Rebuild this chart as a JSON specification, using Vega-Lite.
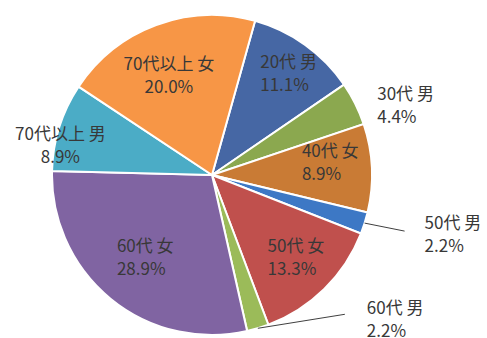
{
  "$schema": "https://vega.github.io/schema/vega-lite/v6.json",
  "width": 424,
  "height": 324,
  "autosize": {"type": "none"},
  "padding": {"left": 0, "top": 13, "right": 63, "bottom": 1},
  "background": "white",
  "config": {"view": {"stroke": null}, "text": {"font": "Noto Sans CJK JP", "fontSize": 17, "color": "#383838", "lineHeight": 23, "lineBreak": "\n"}},
  "data": {"values": [
    {"category": "20代 男", "value": 11.1, "order": 1},
    {"category": "30代 男", "value": 4.4, "order": 2},
    {"category": "40代 女", "value": 8.9, "order": 3},
    {"category": "50代 男", "value": 2.2, "order": 4},
    {"category": "50代 女", "value": 13.3, "order": 5},
    {"category": "60代 男", "value": 2.2, "order": 6},
    {"category": "60代 女", "value": 28.9, "order": 7},
    {"category": "70代以上 男", "value": 8.9, "order": 8},
    {"category": "70代以上 女", "value": 20.0, "order": 9}
  ]},
  "transform": [
    {"window": [{"op": "sum", "field": "value", "as": "cum"}], "sort": [{"field": "order"}], "frame": [null, 0]},
    {"joinaggregate": [{"op": "sum", "field": "value", "as": "total"}]},
    {"calculate": "0.2723 + 2*PI*(datum.cum - datum.value/2)/datum.total", "as": "mid"},
    {"calculate": "datum.category + '\\n' + format(datum.value, '.1f') + '%'", "as": "label"}
  ],
  "layer": [
    {
      "mark": {"type": "arc", "radius": 160, "stroke": "white", "strokeWidth": 2},
      "encoding": {
        "theta": {"field": "value", "type": "quantitative", "stack": true, "scale": {"range": [0.2723, 6.5555]}},
        "order": {"field": "order", "type": "quantitative"},
        "color": {"field": "category", "type": "nominal", "legend": null,
          "scale": {"domain": ["20代 男", "30代 男", "40代 女", "50代 男", "50代 女", "60代 男", "60代 女", "70代以上 男", "70代以上 女"],
                    "range": ["#4667A4", "#8BA84F", "#C97B35", "#3D78C5", "#C0504D", "#9BBB59", "#8064A2", "#4BACC6", "#F79646"]}}
      }
    },
    {
      "mark": {"type": "text", "radius": 112, "align": "center", "baseline": "middle", "dx": -4, "dy": -5},
      "encoding": {
        "theta": {"field": "value", "type": "quantitative", "stack": true},
        "order": {"field": "order", "type": "quantitative"},
        "text": {"condition": {"test": "datum.category == '70代以上 女'", "field": "label"}, "value": ""}
      }
    },
    {
      "mark": {"type": "text", "radius": 112, "align": "left", "baseline": "middle", "dx": -17, "dy": -21},
      "encoding": {
        "theta": {"field": "value", "type": "quantitative", "stack": true},
        "order": {"field": "order", "type": "quantitative"},
        "text": {"condition": {"test": "datum.category == '20代 男'", "field": "label"}, "value": ""}
      }
    },
    {
      "mark": {"type": "text", "radius": 112, "align": "left", "baseline": "middle", "dx": -22, "dy": -18},
      "encoding": {
        "theta": {"field": "value", "type": "quantitative", "stack": true},
        "order": {"field": "order", "type": "quantitative"},
        "text": {"condition": {"test": "datum.category == '40代 女'", "field": "label"}, "value": ""}
      }
    },
    {
      "mark": {"type": "text", "radius": 112, "align": "left", "baseline": "middle", "dx": -23, "dy": -8},
      "encoding": {
        "theta": {"field": "value", "type": "quantitative", "stack": true},
        "order": {"field": "order", "type": "quantitative"},
        "text": {"condition": {"test": "datum.category == '50代 女'", "field": "label"}, "value": ""}
      }
    },
    {
      "mark": {"type": "text", "radius": 112, "align": "left", "baseline": "middle", "dx": -24, "dy": -15},
      "encoding": {
        "theta": {"field": "value", "type": "quantitative", "stack": true},
        "order": {"field": "order", "type": "quantitative"},
        "text": {"condition": {"test": "datum.category == '60代 女'", "field": "label"}, "value": ""}
      }
    },
    {
      "mark": {"type": "text", "radius": 160, "align": "left", "baseline": "middle", "dx": 22, "dy": -9},
      "encoding": {
        "theta": {"field": "value", "type": "quantitative", "stack": true},
        "order": {"field": "order", "type": "quantitative"},
        "text": {"condition": {"test": "datum.category == '30代 男'", "field": "label"}, "value": ""}
      }
    },
    {
      "mark": {"type": "text", "radius": 160, "align": "left", "baseline": "middle", "dx": 60, "dy": 1},
      "encoding": {
        "theta": {"field": "value", "type": "quantitative", "stack": true},
        "order": {"field": "order", "type": "quantitative"},
        "text": {"condition": {"test": "datum.category == '50代 男'", "field": "label"}, "value": ""}
      }
    },
    {
      "mark": {"type": "text", "radius": 160, "align": "left", "baseline": "middle", "dx": 109, "dy": -19},
      "encoding": {
        "theta": {"field": "value", "type": "quantitative", "stack": true},
        "order": {"field": "order", "type": "quantitative"},
        "text": {"condition": {"test": "datum.category == '60代 男'", "field": "label"}, "value": ""}
      }
    },
    {
      "mark": {"type": "text", "radius": 160, "align": "center", "baseline": "middle", "dx": 1, "dy": 8},
      "encoding": {
        "theta": {"field": "value", "type": "quantitative", "stack": true},
        "order": {"field": "order", "type": "quantitative"},
        "text": {"condition": {"test": "datum.category == '70代以上 男'", "field": "label"}, "value": ""}
      }
    },
    {
      "transform": [
        {"filter": "datum.category == '50代 男' || datum.category == '60代 男'"},
        {"calculate": "160*sin(datum.mid)", "as": "lx1"},
        {"calculate": "-160*cos(datum.mid)", "as": "ly1"},
        {"calculate": "datum.lx1 + (datum.category == '50代 男' ? 40 : 87)", "as": "lx2"},
        {"calculate": "datum.ly1 + (datum.category == '50代 男' ? 8 : -14)", "as": "ly2"}
      ],
      "mark": {"type": "rule", "color": "#404040", "strokeWidth": 1},
      "encoding": {
        "x": {"field": "lx1", "type": "quantitative", "axis": null, "scale": {"domain": [-212, 212], "nice": false, "zero": false}},
        "y": {"field": "ly1", "type": "quantitative", "axis": null, "scale": {"domain": [-162, 162], "nice": false, "zero": false, "reverse": true}},
        "x2": {"field": "lx2"},
        "y2": {"field": "ly2"}
      }
    }
  ]
}
